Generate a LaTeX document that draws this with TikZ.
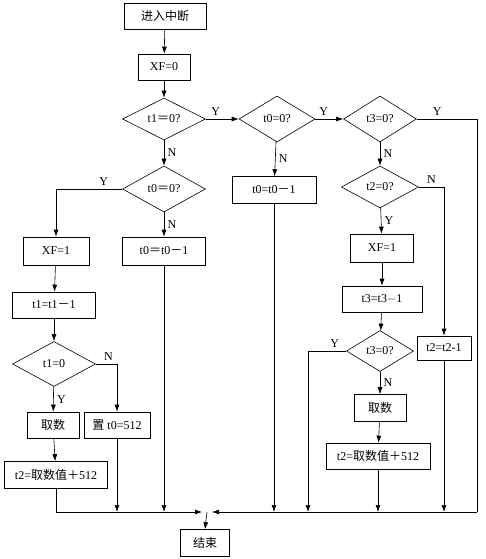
\documentclass[tikz,border=0pt]{standalone}
\usepackage{fontspec}
\setmainfont{Liberation Serif}
\newfontfamily\cjk{Noto Sans CJK SC}
\usetikzlibrary{arrows.meta}
\usetikzlibrary{shapes.geometric}

\begin{document}
\begin{tikzpicture}[>={Latex[length=7pt,width=5pt]},x=1pt,y=-1pt,line width=0.6pt,
      font=\fontsize{12}{14}\selectfont,
      box/.style={draw,rectangle,minimum height=26pt,inner sep=1pt},
      test/.style={draw,diamond,inner sep=0pt}]
    \useasboundingbox (0,0) rectangle (485,559);
    % main column
    \node[box,minimum width=82pt] (start) at (165,16) {\cjk 进入中断};
    \node[box,minimum width=52pt] (xf0) at (164,67) {XF=0};
    \node[test,minimum width=83pt,minimum height=42pt] (d1) at (164,119) {t1{\cjk ＝}0?};
    \node[test,minimum width=76pt,minimum height=46pt] (d2) at (277,119) {t0=0?};
    \node[test,minimum width=73pt,minimum height=46pt] (d3) at (380,119) {t3=0?};
    \node[test,minimum width=83pt,minimum height=46pt] (d4) at (164,189) {t0{\cjk ＝}0?};
    \node[box,minimum width=84pt,minimum height=27pt] (dec1) at (274,190) {t0=t0{\cjk －}1};
    \node[test,minimum width=77pt,minimum height=42pt] (d5) at (380,187) {t2=0?};
    % left branch
    \node[box,minimum width=66pt,minimum height=28pt] (xf1l) at (56,251) {XF=1};
    \node[box,minimum width=83pt,minimum height=28pt] (dec0) at (164,251) {t0{\cjk ＝}t0{\cjk －}1};
    \node[box,minimum width=83pt] (dec1b) at (54,305) {t1=t1{\cjk －}1};
    \node[test,minimum width=83pt,minimum height=45pt] (d6) at (54,364) {t1=0};
    \node[box,minimum width=52pt] (get1) at (53,425) {\cjk 取数};
    \node[box,minimum width=66pt] (set0) at (117,425) {{\cjk 置} t0=512};
    \node[box,minimum width=103pt,minimum height=27pt] (calc1) at (56,475) {t2={\cjk 取数值＋}512};
    % right branch
    \node[box,minimum width=63pt,minimum height=28pt] (xf1r) at (382,248) {XF=1};
    \node[box,minimum width=80pt] (dec3) at (382,299) {t3=t3$-$1};
    \node[test,minimum width=67pt,minimum height=41pt] (d7) at (380,351) {t3=0?};
    \node[box,minimum width=54pt,minimum height=24pt] (dec2) at (444,348) {t2=t2-1};
    \node[box,minimum width=52pt,minimum height=27pt] (get2) at (380,408) {\cjk 取数};
    \node[box,minimum width=104pt] (calc2) at (378,456) {t2={\cjk 取数值＋}512};
    \node[box,minimum width=49pt,minimum height=27pt] (end) at (205,543) {\cjk 结束};
    % bus
    \coordinate (join) at (207,512);
    \coordinate (busR) at (477,512);
    \coordinate (yleft) at (308,512);

    \path[every node/.style={font=\fontsize{12}{14}\selectfont}]
      (start) edge [->] (xf0)
      (xf0)   edge [->] (d1)
      (d1)    edge [->] node [pos=0.3,above] {Y} (d2)
              edge [->] node [right] {N} (d4)
      (d2)    edge [->] node [pos=0.3,above] {Y} (d3)
              edge [->] node [right] {N} (dec1)
      (d3)    edge [->] node [right] {N} (d5)
      (d4)    edge [->] node [right] {N} (dec0)
      (d5)    edge [->] node [right] {Y} (xf1r)
      (xf1r)  edge [->] (dec3)
      (dec3)  edge [->] (d7)
      (d7)    edge [->] node [right] {N} (get2)
      (get2)  edge [->] (calc2)
      (xf1l)  edge [->] (dec1b)
      (dec1b) edge [->] (d6)
      (d6)    edge [->] node [right] {Y} (get1)
      (get1)  edge [->] (calc1);

    \draw[->] (d4.west) -| node [pos=0.14,above] {Y} (xf1l.north);
    \draw[->] (d6.east) -| node [pos=0.3,above] {N} (set0.north);
    \draw[->] (d5.east) -| node [pos=0.25,above] {N} (dec2.north);
    \draw[->] (d7.west) -| node [pos=0.15,above] {Y} (yleft);
    \draw (d3.east) -| node [pos=0.17,above] {Y} (busR);

    % into the bus
    \draw[->] (set0.south) -- (set0.south |- join);
    \draw[->] (dec0.south) -- (dec0.south |- join);
    \draw[->] (dec1.south) -- (dec1.south |- join);
    \draw[->] (calc2.south) -- (calc2.south |- join);
    \draw[->] (dec2.south) -- (dec2.south |- join);
    \draw[->] (calc1.south) |- ([xshift=-5pt]join);
    \draw[->] (busR) -- ([xshift=5pt]join);
    \draw[->] (join) -- (end.north);
\end{tikzpicture}
\end{document}
